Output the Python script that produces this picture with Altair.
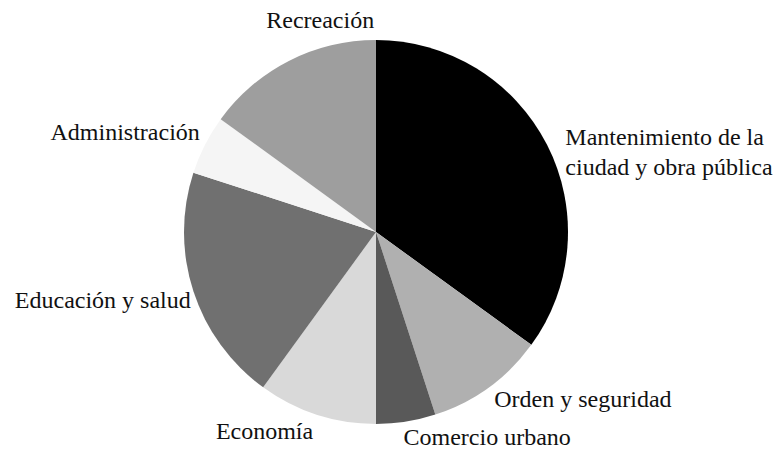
import altair as alt
import pandas as pd

categories = [
    "Mantenimiento de la\nciudad y obra pública",
    "Orden y seguridad",
    "Comercio urbano",
    "Economía",
    "Educación y salud",
    "Administración",
    "Recreación",
]
values = [35, 10, 5, 10, 20, 5, 15]
colors = ["#000000", "#b0b0b0", "#595959", "#d9d9d9", "#707070", "#f5f5f5", "#9e9e9e"]

df = pd.DataFrame({
    "cat": categories,
    "value": values,
    "idx": list(range(len(categories))),
})

CX, CY = 368, 224
FONT = "Liberation Serif"

base = alt.Chart(df)

pie = base.mark_arc(outerRadius=192, stroke=None).encode(
    theta=alt.Theta("value:Q", stack=True),
    color=alt.Color("cat:N", scale=alt.Scale(domain=categories, range=colors), legend=None),
    order=alt.Order("idx:Q"),
    x=alt.value(CX),
    y=alt.value(CY),
)

lab_base = base.transform_window(
    cum="sum(value)", sort=[alt.SortField("idx")], frame=[None, 0]
).transform_calculate(mid="datum.cum - datum.value / 2")

# (label index, align, radius, dx, dy)
label_layout = [
    (0, "left", 208, 4, 0),
    (1, "left", 208, -4, 0),
    (2, "left", 208, -5, 1),
    (3, "right", 200, -1, 10),
    (4, "right", 200, 5, 7),
    (5, "right", 200, 2, -8),
    (6, "center", 200, 35, -33),
]

def text_layer(i, align, radius, dx, dy):
    return lab_base.transform_filter(alt.datum.idx == i).mark_text(
        radius=radius, align=align, baseline="middle", font=FONT, fontSize=24,
        lineBreak="\n", lineHeight=30, color="#111111", dx=dx, dy=dy,
    ).encode(
        theta=alt.Theta("mid:Q", stack=None, scale=alt.Scale(domain=[0, 100])),
        text="cat:N",
        x=alt.value(CX),
        y=alt.value(CY),
    )

chart = alt.layer(
    pie, *[text_layer(*l) for l in label_layout]
).properties(
    width=767, height=442, padding=0,
    autosize=alt.AutoSizeParams(type="none"),
).configure_view(stroke=None)

chart.save("out.html", embed_options={"renderer": "svg", "actions": False})
